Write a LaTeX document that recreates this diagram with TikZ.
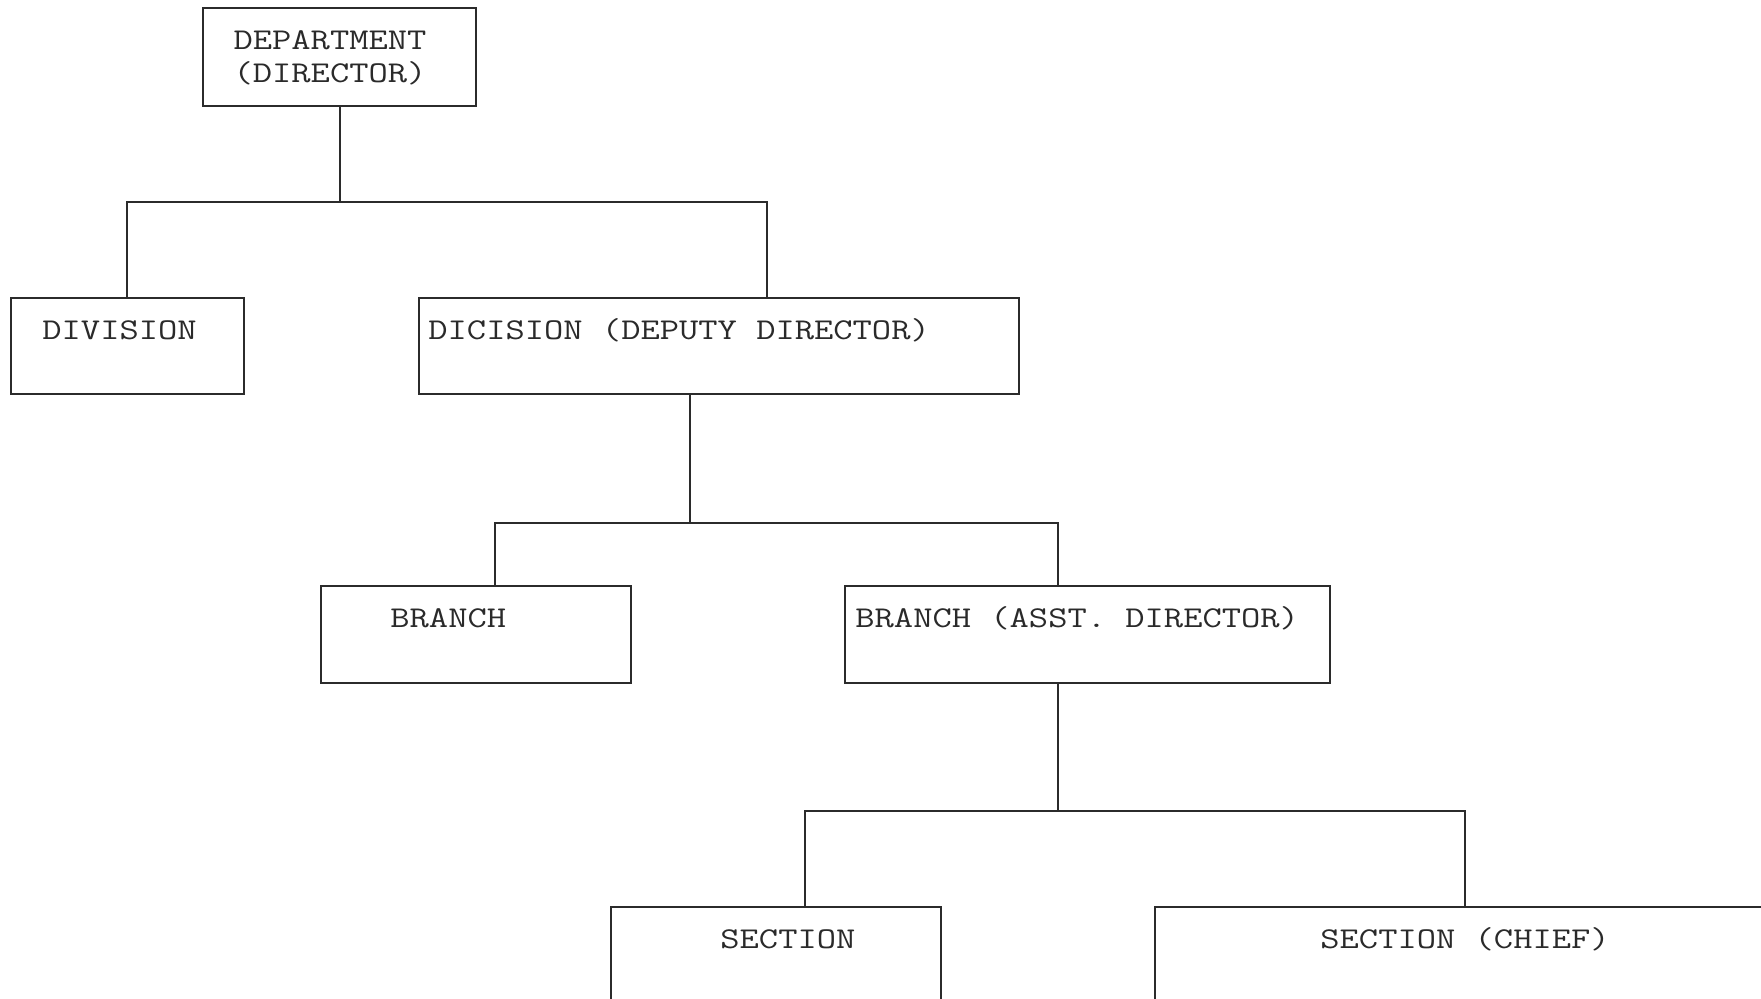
\documentclass[tikz,border=0pt]{standalone}
\usepackage{graphicx}
\definecolor{linecol}{HTML}{2B2B2B}
\definecolor{textcol}{HTML}{2A2A2A}
\newcommand{\orglbl}[1]{\scalebox{1.24}[1]{#1}}
\tikzset{
  orgbox/.style={draw=linecol, line width=1pt, inner sep=0pt, outer sep=0pt, anchor=north west},
  orgtext/.style={inner sep=0pt, anchor=base west, text=textcol, font=\fontsize{15.1pt}{19pt}\selectfont\ttfamily},
  orgtextc/.style={orgtext, anchor=base},
  conn/.style={draw=linecol, line width=1pt}
}
\begin{document}
\begin{tikzpicture}[x=0.5pt, y=-0.5pt]
\fill[white] (0,0) rectangle (1761,998);
\clip (0,0) rectangle (1761,998);
% boxes
\node[orgbox, minimum width=136.5pt, minimum height=49pt] (dept) at (203,8) {};
\node[orgbox, minimum width=116.5pt, minimum height=48pt] (div) at (11,298) {};
\node[orgbox, minimum width=300pt, minimum height=48pt] (dic) at (419,298) {};
\node[orgbox, minimum width=155pt, minimum height=48.5pt] (br) at (321,586) {};
\node[orgbox, minimum width=242.5pt, minimum height=48.5pt] (bra) at (845,586) {};
\node[orgbox, minimum width=165pt, minimum height=60pt] (sec) at (611,907) {};
\node[orgbox, minimum width=322.5pt, minimum height=60pt] (secc) at (1155,907) {};
% texts
\node[orgtextc] (dept-l1) at (330,49) {\orglbl{DEPARTMENT}};
\node[orgtextc] (dept-l2) at (330,82) {\orglbl{(DIRECTOR)}};
\node[orgtext] (div-t) at (42,339) {\orglbl{DIVISION}};
\node[orgtext] (dic-t) at (428,339) {\orglbl{DICISION (DEPUTY DIRECTOR)}};
\node[orgtext] (br-t) at (390,627) {\orglbl{BRANCH}};
\node[orgtext] (bra-t) at (855,627) {\orglbl{BRANCH (ASST. DIRECTOR)}};
\node[orgtext] (sec-t) at (720,948) {\orglbl{SECTION}};
\node[orgtext] (secc-t) at (1320,948) {\orglbl{SECTION (CHIEF)}};
% junction coordinates
\coordinate (j1) at (340,202);
\coordinate (b1L) at (127,202);
\coordinate (b1R) at (767,202);
\coordinate (j2) at (690,523);
\coordinate (b2L) at (495,523);
\coordinate (b2R) at (1058,523);
\coordinate (j3) at (1058,811);
\coordinate (b3L) at (805,811);
\coordinate (b3R) at (1465,811);
% connectors
\draw[conn] (dept.south -| j1) -- (j1);
\draw[conn] (b1L |- div.north) -- (b1L) -- (b1R) -- (b1R |- dic.north);
\draw[conn] (dic.south -| j2) -- (j2);
\draw[conn] (b2L |- br.north) -- (b2L) -- (b2R) -- (b2R |- bra.north);
\draw[conn] (bra.south -| j3) -- (j3);
\draw[conn] (b3L |- sec.north) -- (b3L) -- (b3R) -- (b3R |- secc.north);
\end{tikzpicture}
\end{document}
